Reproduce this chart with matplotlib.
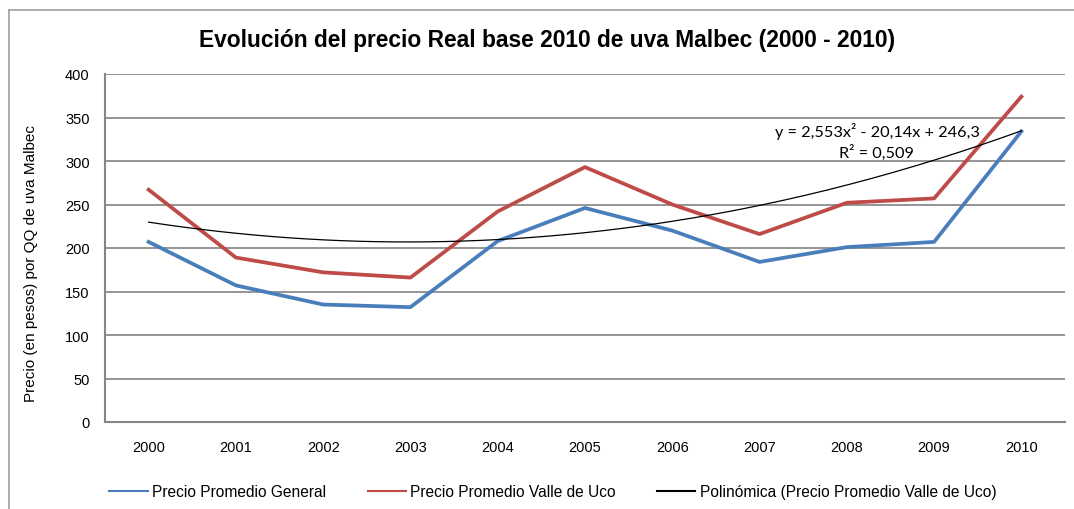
import numpy as np
import matplotlib
matplotlib.use("Agg")
import matplotlib.pyplot as plt
from matplotlib.lines import Line2D

# ---- data ----
years = ["2000", "2001", "2002", "2003", "2004", "2005", "2006", "2007", "2008", "2009", "2010"]
precio_general = [207, 157, 135, 132, 208, 246, 220, 184, 201, 207, 334]
precio_valle_uco = [267, 189, 172, 166, 242, 293, 250, 216, 252, 257, 374]
y_ticks = [0, 50, 100, 150, 200, 250, 300, 350, 400]
trend_eq_text = "y = 2,553x² - 20,14x + 246,3"
trend_r2_text = "R² = 0,509"

title = "Evolución del precio Real base 2010 de uva Malbec (2000 - 2010)"
ylabel = "Precio (en pesos) por QQ de uva Malbec"
labels = ["Precio Promedio General", "Precio Promedio Valle de Uco",
          "Polinómica (Precio Promedio Valle de Uco)"]

BLUE = "#4A7EBB"
RED = "#BE4B48"
GRID = "#8C8C8C"

plt.rcParams["font.family"] = ["Liberation Sans", "DejaVu Sans"]

W, H = 1074, 510
fig = plt.figure(figsize=(W / 100, H / 100), dpi=100)
ax = fig.add_axes([105 / W, 1 - 423 / H, (1065 - 105) / W, (423 - 75) / H])

x = np.arange(len(years))
ax.plot(x, precio_general, color=BLUE, lw=2.7, solid_joinstyle="round", zorder=3)
ax.plot(x, precio_valle_uco, color=RED, lw=2.7, solid_joinstyle="round", zorder=3)

# polynomial (order 2) trend line fitted to Valle de Uco series (Excel x = 1..n)
xe = np.arange(1, len(years) + 1)
coef = np.polyfit(xe, precio_valle_uco, 2)
xf = np.linspace(1, len(years), 200)
ax.plot(xf - 1, np.polyval(coef, xf), color="black", lw=0.9, zorder=4)

ax.set_xlim(-0.5, len(years) - 0.5)
ax.set_ylim(0, 400)
ax.set_yticks(y_ticks)
ax.set_xticks(x)
ax.set_xticklabels(years)
ax.tick_params(axis="both", length=0, labelsize=10.5, colors="black")
ax.tick_params(axis="x", pad=13)
ax.tick_params(axis="y", pad=11)
ax.grid(axis="y", color=GRID, lw=1.3)
ax.set_axisbelow(True)
for s in ["top", "right"]:
    ax.spines[s].set_visible(False)
for s in ["left", "bottom"]:
    ax.spines[s].set_color("#868686")
    ax.spines[s].set_linewidth(1.5)

# trendline equation label
ax.text(980 / W, 1 - 131 / H, trend_eq_text, transform=fig.transFigure,
        ha="right", va="center", fontsize=11.7, family=["Lato", "DejaVu Sans"])
ax.text(914 / W, 1 - 153 / H, trend_r2_text, transform=fig.transFigure,
        ha="right", va="center", fontsize=11.7, family=["Lato", "DejaVu Sans"])

fig.text(547 / W, 1 - 41 / H, title, ha="center", va="center",
         fontsize=16.4, fontweight="bold")
fig.text(31 / W, 1 - 264 / H, ylabel, ha="center", va="center",
         rotation=90, fontsize=11)

handles = [Line2D([], [], color=BLUE, lw=1.5),
           Line2D([], [], color=RED, lw=1.5),
           Line2D([], [], color="black", lw=1.5)]
fig.legend(handles, labels, loc="center", bbox_to_anchor=(553 / W, 1 - 493 / H),
           ncol=3, frameon=False, fontsize=11.2, handlelength=2.45,
           handletextpad=0.3, columnspacing=2.65)

# outer chart frame (left and top edges visible)
fig.add_artist(Line2D([9 / W, 9 / W], [0, 1 - 11 / H], color="#A0A0A0", lw=1.2,
                      transform=fig.transFigure))
fig.add_artist(Line2D([9 / W, 1], [1 - 11 / H, 1 - 11 / H], color="#A0A0A0", lw=1.2,
                      transform=fig.transFigure))

fig.savefig("out.png", dpi=100)
